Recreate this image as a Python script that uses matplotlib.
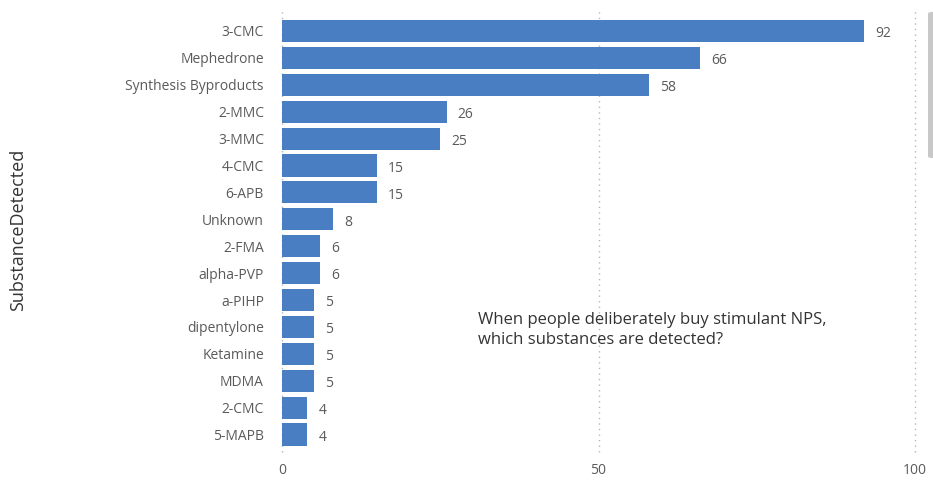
import matplotlib
matplotlib.use("Agg")
import matplotlib.pyplot as plt
from matplotlib.patches import FancyBboxPatch

substances = ["3-CMC", "Mephedrone", "Synthesis Byproducts", "2-MMC", "3-MMC",
              "4-CMC", "6-APB", "Unknown", "2-FMA", "alpha-PVP", "a-PIHP",
              "dipentylone", "Ketamine", "MDMA", "2-CMC", "5-MAPB"]
counts = [92, 66, 58, 26, 25, 15, 15, 8, 6, 6, 5, 5, 5, 5, 4, 4]
x_ticks = [0, 50, 100]

plt.rcParams["font.family"] = ["Open Sans", "DejaVu Sans"]

W, H = 933, 480
fig = plt.figure(figsize=(W / 100, H / 100), dpi=100)
ax = fig.add_axes([282 / W, 1 - 452 / H, (915 - 282) / W, (452 - 10) / H])

bar_color = "#4A7EC2"
text_color = "#5A5A5A"
pos = list(range(len(substances)))
ax.barh(pos, counts, height=0.82, color=bar_color, zorder=2)

for p, v in zip(pos, counts):
    ax.annotate(str(v), (v, p), xytext=(8, -2), textcoords="offset points",
                va="center", ha="left", fontsize=10, color=text_color)

ax.set_xlim(0, 100)
ax.set_ylim(15.65, -0.78)
ax.set_yticks(pos)
ax.set_yticklabels(substances, fontsize=10, color=text_color)
ax.set_xticks(x_ticks)
ax.set_xticklabels([str(t) for t in x_ticks], fontsize=10, color=text_color)
ax.tick_params(axis="both", length=0)
ax.tick_params(axis="y", pad=13)
ax.tick_params(axis="x", pad=8)

for s in ax.spines.values():
    s.set_visible(False)
ax.xaxis.grid(True, linestyle=(0, (1, 3)), color="#B8B8B8", linewidth=1, zorder=0)
for gl in ax.get_xgridlines():
    gl.set_clip_on(False)
ax.set_axisbelow(True)

fig.text(18 / W, 1 - 230 / H, "SubstanceDetected", rotation=90, va="center",
         ha="center", fontsize=13, color="#333333")

ax.text(478 / W, 1 - 330 / H,
        "When people deliberately buy stimulant NPS,\nwhich substances are detected?",
        transform=fig.transFigure, fontsize=12, color="#333333",
        va="center", ha="left", linespacing=1.35)

# scrollbar thumb at the right edge
fig.patches.append(FancyBboxPatch((928 / W, 1 - 158 / H), 8 / W, 146 / H,
                                  boxstyle="round,pad=0,rounding_size=0.004",
                                  transform=fig.transFigure, facecolor="#C8C8C8",
                                  edgecolor="none"))

fig.savefig("out.png", dpi=100)
